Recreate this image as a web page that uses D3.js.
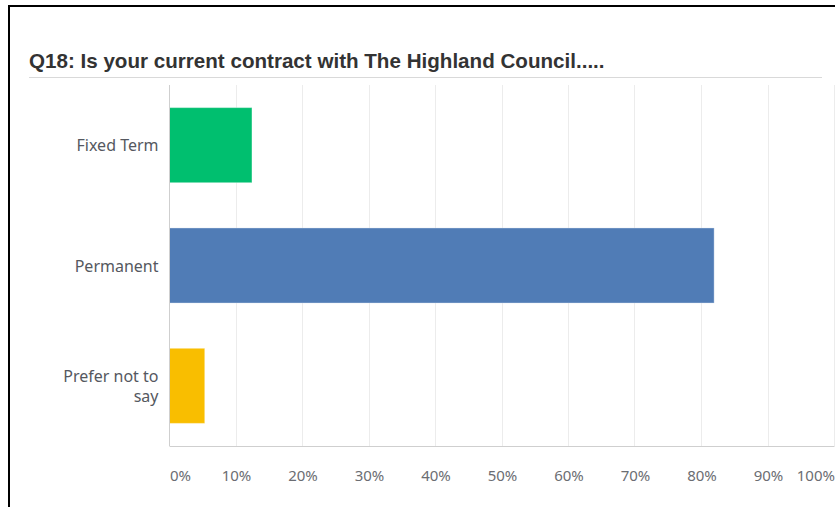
<!DOCTYPE html>
<html>
<head>
<meta charset="utf-8">
<script src="https://cdn.jsdelivr.net/npm/d3@7"></script>
<style>
  body { margin: 0; background: #fff; }
  svg { display: block; }
</style>
</head>
<body>
<div id="viz"></div>
<script>
// chart data
const title = "Q18: Is your current contract with The Highland Council....."
const categories = ["Fixed Term", "Permanent", "Prefer not to say"]
const values = [12.4, 81.9, 5.3]
const colors = ["#00bf6f", "#507cb6", "#f9be00"]
const tickValues = [0, 10, 20, 30, 40, 50, 60, 70, 80, 90, 100]

let fullWidth = 835
let fullHeight = 507

const svg = d3.select("#viz").append("svg")
    .attr("width", fullWidth)
    .attr("height", fullHeight)

// black frame on top and left
svg.append("rect").attr("x", 8).attr("y", 5).attr("width", fullWidth - 8).attr("height", 2).attr("fill", "#000")
svg.append("rect").attr("x", 8).attr("y", 5).attr("width", 2).attr("height", fullHeight - 5).attr("fill", "#000")

svg.append("text")
    .attr("x", 29)
    .attr("y", 67.5)
    .attr("font-family", "'Liberation Sans', Arial, sans-serif")
    .attr("font-weight", "bold")
    .attr("font-size", 20.6)
    .attr("fill", "#333")
    .text(title)

svg.append("line")
    .attr("x1", 29).attr("x2", 822)
    .attr("y1", 77.5).attr("y2", 77.5)
    .attr("stroke", "#d9d9d9")
    .attr("stroke-width", 1)

var margin = { top: 85, left: 169.5, right: 0.5, bottom: 61 }
var width = fullWidth - margin.left - margin.right
var height = fullHeight - margin.top - margin.bottom

var x = d3.scaleLinear().domain([0, 100]).range([0, width])
var y = d3.scaleBand().domain(categories).range([0, height]).paddingInner(0.376).paddingOuter(0.188)

var g = svg.append("g").attr("transform", "translate(" + margin.left + "," + margin.top + ")")

// vertical grid
g.append("g")
    .selectAll("line")
    .data(tickValues.filter(d => d > 0))
    .enter()
    .append("line")
    .attr("x1", d => Math.round(x(d)))
    .attr("x2", d => Math.round(x(d)))
    .attr("y1", 0)
    .attr("y2", height)
    .attr("stroke", "#ececec")

// bars
g.append("g")
    .selectAll("rect")
    .data(categories)
    .enter()
    .append("rect")
    .attr("x", 0)
    .attr("y", d => y(d))
    .attr("width", (d, i) => x(values[i]))
    .attr("height", y.bandwidth())
    .attr("fill", (d, i) => colors[i])
    .attr("stroke", "rgba(255,255,255,0.35)")

// axes lines
g.append("line").attr("x1", 0).attr("x2", 0).attr("y1", 0).attr("y2", height).attr("stroke", "#cfcfcf")
g.append("line").attr("x1", 0).attr("x2", width).attr("y1", height + 0.5).attr("y2", height + 0.5).attr("stroke", "#cfcfcf")

// x tick labels
var xAxis = d3.axisBottom(x).tickValues(tickValues).tickSize(0).tickPadding(0).tickFormat(d => d + "%")
var ax = g.append("g")
    .attr("transform", "translate(0," + (height + 34.5) + ")")
    .call(xAxis)
ax.select(".domain").remove()
ax.selectAll("text")
    .attr("dy", 0)
    .attr("font-family", "'Noto Sans', sans-serif")
    .attr("font-size", 15)
    .attr("fill", "#6b6d72")
    .attr("text-anchor", (d, i) => i === 0 ? "start" : (i === tickValues.length - 1 ? "end" : "middle"))

// category labels
var lab = g.append("g")
    .selectAll("text")
    .data(categories)
    .enter()
    .append("text")
    .attr("x", -11)
    .attr("text-anchor", "end")
    .attr("font-family", "'Noto Sans', sans-serif")
    .attr("font-size", 16)
    .attr("fill", "#555860")

lab.each(function (d) {
    let lines = d === "Prefer not to say" ? ["Prefer not to", "say"] : [d]
    let cy = y(d) + y.bandwidth() / 2
    let lh = 20
    let t = d3.select(this)
    lines.forEach((l, i) => {
        t.append("tspan")
            .attr("x", -11)
            .attr("y", cy + 6 + (i - (lines.length - 1) / 2) * lh)
            .text(l)
    })
})
</script>
</body>
</html>
